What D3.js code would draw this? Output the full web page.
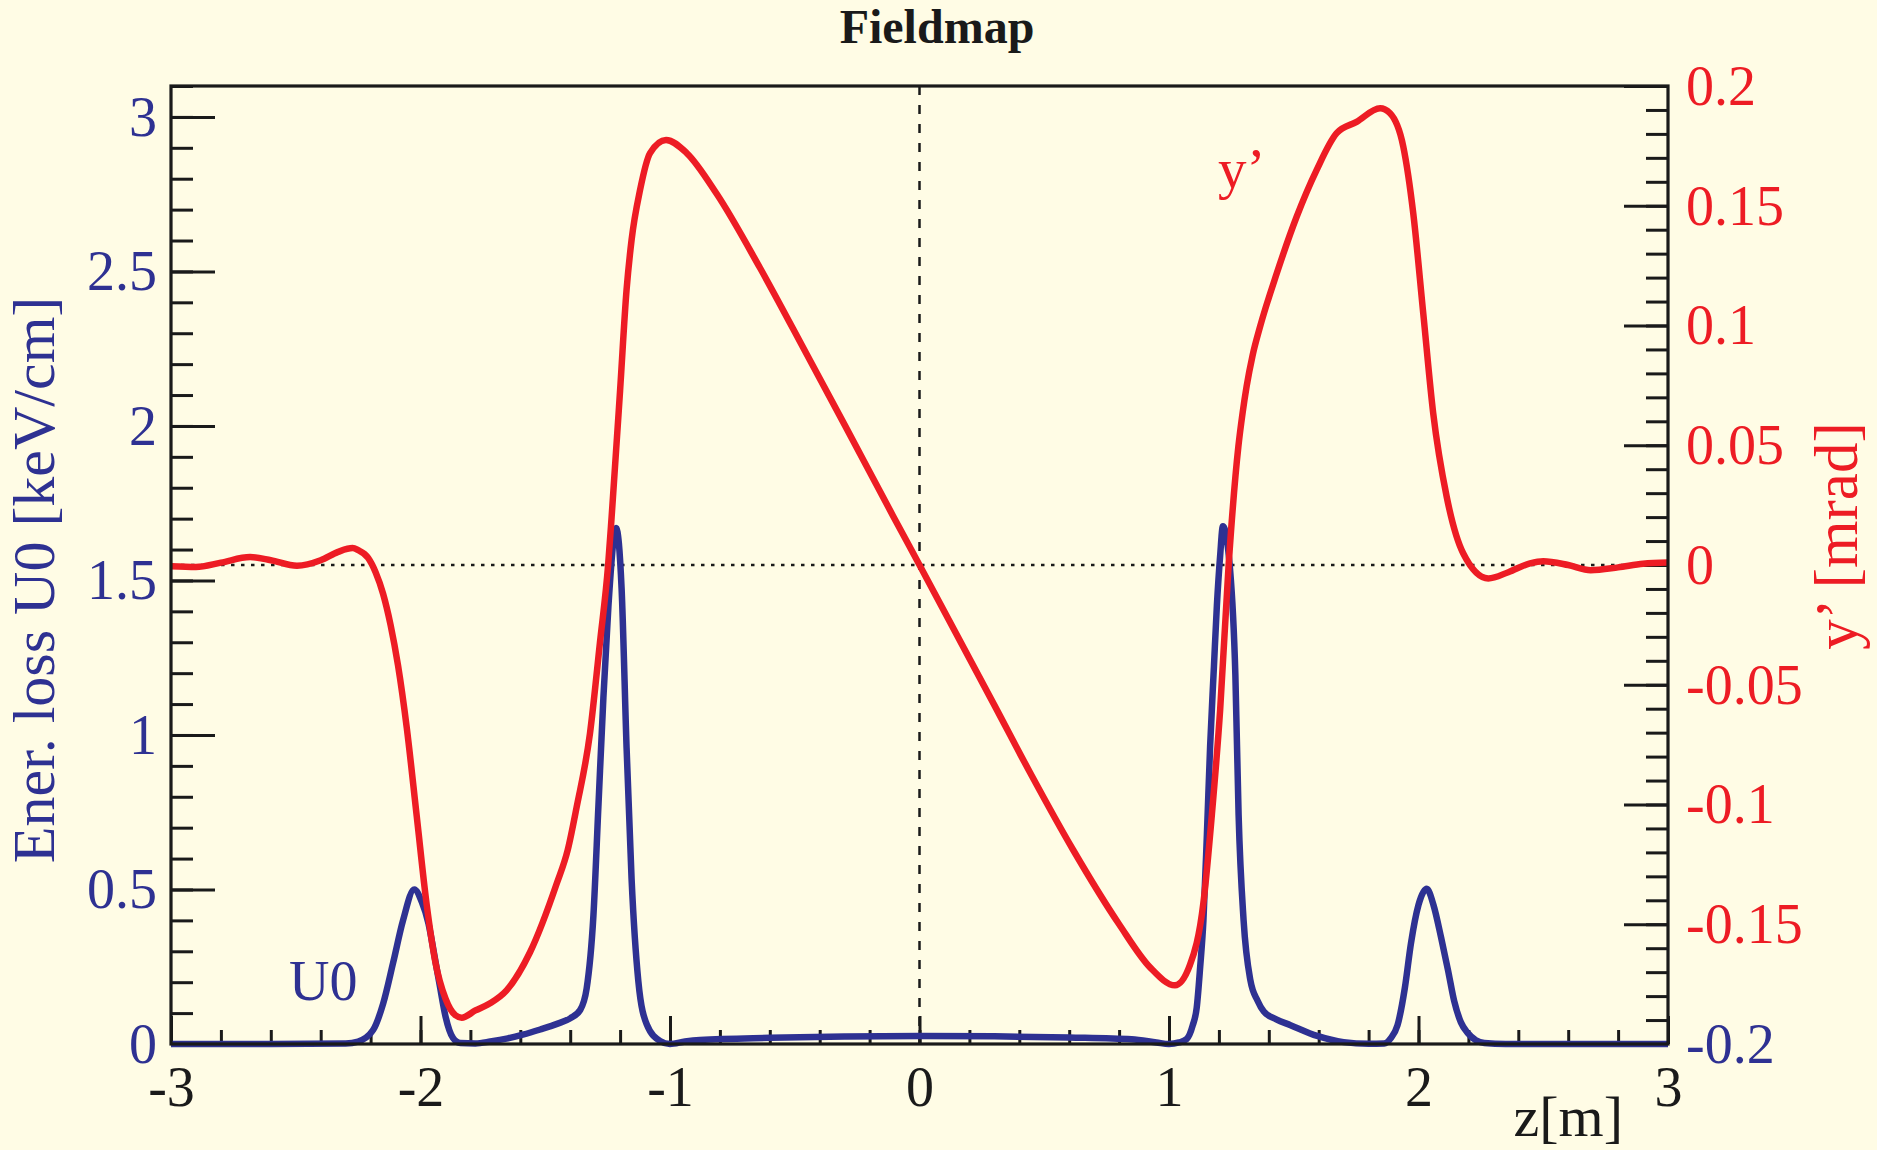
<!DOCTYPE html>
<html>
<head>
<meta charset="utf-8">
<script src="https://cdn.jsdelivr.net/npm/d3@7"></script>
<style>
  html, body { margin: 0; padding: 0; background: #fffce5; }
  svg { display: block; }
  text { font-family: "Liberation Serif", "Times New Roman", serif; }
</style>
</head>
<body>
<script>
// energy loss U0 [keV/cm] along z[m]
const zU0 = [-3.0, -2.6, -2.3, -2.25, -2.19, -2.15, -2.11, -2.07, -2.025, -1.995, -1.968, -1.945, -1.923, -1.9, -1.87, -1.84,
  -1.78, -1.72, -1.65, -1.59, -1.52, -1.45, -1.4, -1.36, -1.334, -1.307, -1.287, -1.267, -1.247, -1.227, -1.216,
  -1.194, -1.174, -1.154, -1.127, -1.093, -1.04, -1.0, -0.94, -0.88, -0.6, -0.3, 0, 0.3, 0.6, 0.85, 0.95, 1.0,
  1.04, 1.071, 1.095, 1.111, 1.125, 1.138, 1.152, 1.165, 1.18, 1.192, 1.205, 1.216, 1.245, 1.266, 1.279, 1.299,
  1.326, 1.355, 1.38, 1.43, 1.487, 1.594, 1.7, 1.8, 1.862, 1.89, 1.916, 1.945, 1.97, 2.0, 2.033, 2.06, 2.091,
  2.118, 2.143, 2.17, 2.197, 2.23, 2.264, 2.35, 3.0]
const u0 = [0, 0, 0.002, 0.008, 0.045, 0.13, 0.262, 0.4, 0.5, 0.46, 0.39, 0.29, 0.19, 0.09, 0.02, 0.003,
  0.002, 0.008, 0.018, 0.03, 0.047, 0.066, 0.083, 0.11, 0.18, 0.415, 0.768, 1.12, 1.414, 1.626, 1.67,
  1.474, 0.958, 0.534, 0.204, 0.063, 0.01, 0.0, 0.008, 0.013, 0.02, 0.024, 0.026, 0.025, 0.021, 0.015, 0.005, 0.0,
  0.005, 0.016, 0.06, 0.117, 0.25, 0.4, 0.68, 0.967, 1.22, 1.42, 1.58, 1.675, 1.533, 1.194, 0.741, 0.4,
  0.207, 0.14, 0.105, 0.08, 0.061, 0.026, 0.006, 0.001, 0.002, 0.02, 0.061, 0.18, 0.327, 0.45, 0.502, 0.45, 0.343,
  0.24, 0.139, 0.07, 0.036, 0.012, 0.003, 0.0, 0.0]

// y' [mrad] along z[m]
const zYp = [-3.0, -2.9, -2.8, -2.683, -2.6, -2.495, -2.4, -2.33, -2.272, -2.25, -2.21, -2.18, -2.15, -2.12, -2.09,
  -2.055, -2.015, -1.975, -1.94, -1.9, -1.86, -1.835, -1.78, -1.721, -1.655, -1.561, -1.454, -1.41, -1.374, -1.321, -1.281,
  -1.248, -1.234, -1.2, -1.174, -1.154, -1.12, -1.08, -1.016, -0.933, -0.813, -0.639, -0.452, -0.3, -0.106, 0, 0.3,
  0.45, 0.616, 0.8, 0.924, 1.024, 1.084, 1.138, 1.172, 1.205, 1.239, 1.278, 1.295, 1.311, 1.335, 1.365, 1.432, 1.512,
  1.592, 1.672, 1.752, 1.846, 1.886, 1.939, 1.979, 2.019, 2.059, 2.113, 2.179, 2.28, 2.36, 2.447, 2.5, 2.6, 2.69,
  2.8, 2.9, 3.0]
const yp = [-0.0005, -0.0008, 0.001, 0.0033, 0.002, -0.0003, 0.002, 0.0055, 0.0071, 0.0062, 0.003, -0.003, -0.012, -0.025, -0.042,
  -0.068, -0.105, -0.142, -0.166, -0.181, -0.188, -0.189, -0.186, -0.183, -0.1776, -0.1617, -0.133, -0.119, -0.101, -0.0705, -0.0326,
  0, 0.02, 0.073, 0.115, 0.1357, 0.1566, 0.172, 0.1775, 0.172, 0.155, 0.124, 0.088, 0.0585, 0.0205, 0, -0.0585,
  -0.088, -0.119, -0.15, -0.168, -0.1755, -0.167, -0.141, -0.104, -0.0605, 0, 0.0494, 0.0635, 0.0745, 0.0875, 0.0995, 0.1218, 0.1455,
  0.165, 0.1803, 0.185, 0.1907, 0.1886, 0.1747, 0.1468, 0.1051, 0.0633, 0.0285, 0.0049, -0.0056, -0.003, 0.0007, 0.0016, 0.0, -0.0022,
  -0.001, 0.0005, 0.001]

const xTicks = [-3, -2, -1, 0, 1, 2, 3]
const leftTicks = [0, 0.5, 1, 1.5, 2, 2.5, 3]
const rightTicks = [-0.2, -0.15, -0.1, -0.05, 0, 0.05, 0.1, 0.15, 0.2]

const W = 1877, H = 1150
const frameL = 171, frameR = 1668, frameT = 86, frameB = 1044
const blue = "#2e3192", red = "#ed1c24", ink = "#1a1a1a"
const fs = 56

const svg = d3.select("body").append("svg")
    .attr("width", W)
    .attr("height", H)

svg.append("rect").attr("width", W).attr("height", H).attr("fill", "#fffce5")

let x = d3.scaleLinear().domain([-3, 3]).range([frameL, frameR])
let yL = d3.scaleLinear().domain([0, 3.1]).range([frameB, frameT])
let yR = d3.scaleLinear().domain([-0.2, 0.2]).range([frameB, frameT])

// reference lines
svg.append("line")
    .attr("x1", frameL).attr("x2", frameR)
    .attr("y1", yR(0)).attr("y2", yR(0))
    .attr("stroke", ink).attr("stroke-width", 2.5)
    .attr("stroke-dasharray", "3.5,6.5")
svg.append("line")
    .attr("x1", x(0)).attr("x2", x(0))
    .attr("y1", frameT).attr("y2", frameB)
    .attr("stroke", ink).attr("stroke-width", 2.5)
    .attr("stroke-dasharray", "9,10")

// axes, ticks pointing into the frame
function styleAxis(g) {
    g.select(".domain").remove()
    g.selectAll(".tick line").attr("stroke", ink).attr("stroke-width", 3)
    g.selectAll("text").attr("font-family", "Liberation Serif, serif").attr("font-size", fs)
}

let xMinor = d3.range(-30, 31, 2).map(d => d / 10)
svg.append("g").attr("transform", `translate(0,${frameB})`)
    .call(d3.axisBottom(x).tickValues(xMinor).tickSize(-14).tickFormat(""))
    .call(styleAxis)
svg.append("g").attr("transform", `translate(0,${frameB})`)
    .call(d3.axisBottom(x).tickValues(xTicks).tickSize(-28).tickFormat(d => String(d)))
    .call(styleAxis)
    .call(g => g.selectAll("text").attr("y", 62).attr("dy", null).attr("fill", ink))

let lMinor = d3.range(0, 32).map(d => d / 10)
svg.append("g").attr("transform", `translate(${frameL},0)`)
    .call(d3.axisLeft(yL).tickValues(lMinor).tickSize(-22).tickFormat(""))
    .call(styleAxis)
svg.append("g").attr("transform", `translate(${frameL},0)`)
    .call(d3.axisLeft(yL).tickValues(leftTicks).tickSize(-44).tickPadding(14).tickFormat(d => String(d)))
    .call(styleAxis)
    .call(g => g.selectAll("text").attr("fill", blue).attr("dy", "0.33em"))

let rMinor = d3.range(-20, 21).map(d => d / 100)
svg.append("g").attr("transform", `translate(${frameR},0)`)
    .call(d3.axisRight(yR).tickValues(rMinor).tickSize(-22).tickFormat(""))
    .call(styleAxis)
svg.append("g").attr("transform", `translate(${frameR},0)`)
    .call(d3.axisRight(yR).tickValues(rightTicks).tickSize(-44).tickPadding(18).tickFormat(d => String(d)))
    .call(styleAxis)
    .call(g => g.selectAll("text").attr("fill", d => d === -0.2 ? blue : red).attr("dy", "0.33em"))

// curves
let lineU0 = d3.line()
    .x(d => x(d[0]))
    .y(d => yL(d[1]))
    .curve(d3.curveMonotoneX)
let lineYp = d3.line()
    .x(d => x(d[0]))
    .y(d => yR(d[1]))
    .curve(d3.curveMonotoneX)

svg.append("path")
    .datum(d3.zip(zU0, u0))
    .attr("d", lineU0)
    .attr("fill", "none")
    .attr("stroke", blue)
    .attr("stroke-width", 6.5)

svg.append("path")
    .datum(d3.zip(zYp, yp))
    .attr("d", lineYp)
    .attr("fill", "none")
    .attr("stroke", red)
    .attr("stroke-width", 6.5)
    .attr("stroke-linejoin", "round")

// frame
svg.append("rect")
    .attr("x", frameL).attr("y", frameT)
    .attr("width", frameR - frameL).attr("height", frameB - frameT)
    .attr("fill", "none").attr("stroke", ink).attr("stroke-width", 3.2)

// texts
svg.append("text")
    .attr("x", 937).attr("y", 43)
    .attr("text-anchor", "middle")
    .attr("font-size", 48).attr("font-weight", "bold")
    .attr("fill", ink)
    .text("Fieldmap")

svg.append("text")
    .attr("x", 1623).attr("y", 1136)
    .attr("text-anchor", "end")
    .attr("font-size", 58).attr("fill", ink)
    .text("z[m]")

svg.append("text")
    .attr("transform", "translate(54,580) rotate(-90)")
    .attr("text-anchor", "middle")
    .attr("font-size", 60).attr("fill", blue)
    .text("Ener. loss U0 [keV/cm]")

svg.append("text")
    .attr("transform", "translate(1857,536) rotate(-90)")
    .attr("text-anchor", "middle")
    .attr("font-size", 61).attr("fill", red)
    .text("y\u2019 [mrad]")

svg.append("text")
    .attr("x", 1218).attr("y", 188)
    .attr("font-size", 57).attr("fill", red)
    .text("y\u2019")

svg.append("text")
    .attr("x", 289).attr("y", 1000)
    .attr("font-size", 56).attr("fill", blue)
    .text("U0")
</script>
</body>
</html>
